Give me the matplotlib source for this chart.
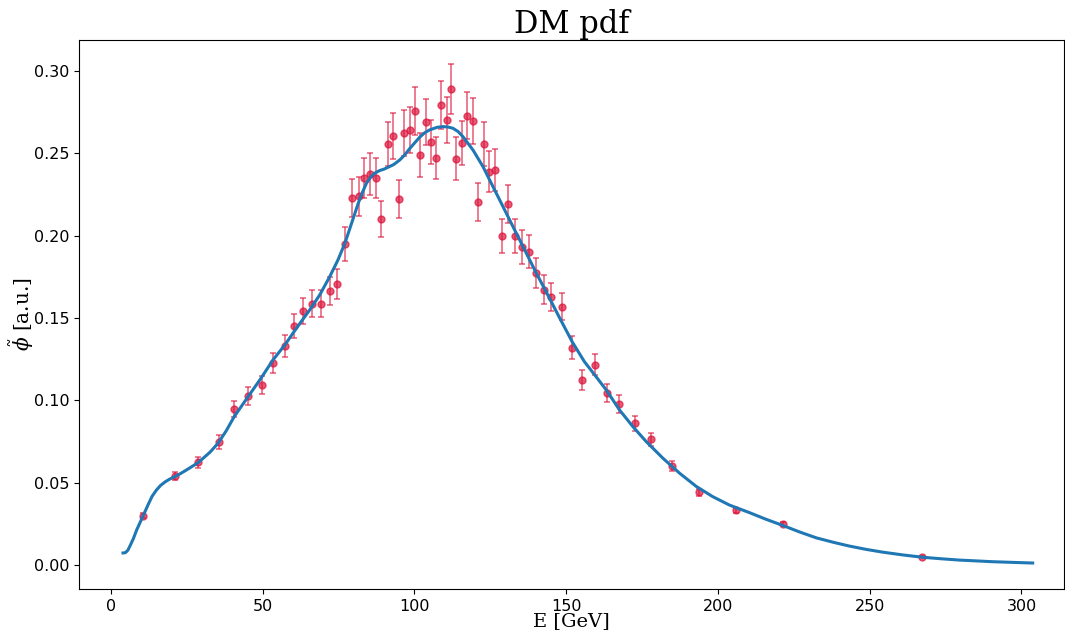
import matplotlib
matplotlib.use("Agg")
import matplotlib.pyplot as plt

# binned data points (E [GeV], phi, error)
E_pts = [10.5, 21.1, 28.6, 35.6, 40.5, 45.1, 49.7, 53.3, 57.3, 60.3,
         63.2, 66.2, 69.1, 72.1, 74.4, 77.1, 79.4, 81.7, 83.3, 85.3,
         87.3, 88.9, 91.2, 92.9, 94.8, 96.5, 98.5, 100.1, 101.7, 103.7,
         105.4, 107.0, 108.7, 110.6, 112.0, 113.6, 115.6, 117.2, 119.2, 120.8,
         122.8, 124.5, 126.4, 128.7, 130.7, 133.0, 135.3, 137.6, 139.9, 142.6,
         144.9, 148.5, 151.8, 155.1, 159.4, 163.3, 167.5, 172.7, 178.1, 185.0,
         193.7, 205.8, 221.6, 267.4]
phi_pts = [0.0298, 0.0540, 0.0625, 0.0747, 0.0947, 0.1026, 0.1093, 0.1227, 0.1330, 0.1451,
           0.1542, 0.1585, 0.1585, 0.1664, 0.1706, 0.1949, 0.2229, 0.2240, 0.2350, 0.2374,
           0.2350, 0.2101, 0.2557, 0.2605, 0.2222, 0.2623, 0.2642, 0.2757, 0.2490, 0.2690,
           0.2569, 0.2472, 0.2793, 0.2702, 0.2891, 0.2466, 0.2563, 0.2727, 0.2696, 0.2204,
           0.2557, 0.2387, 0.2399, 0.1998, 0.2192, 0.1998, 0.1931, 0.1901, 0.1773, 0.1670,
           0.1627, 0.1567, 0.1318, 0.1123, 0.1215, 0.1043, 0.0978, 0.0860, 0.0764, 0.0602,
           0.0441, 0.0332, 0.0249, 0.0049]
phi_err = [0.0015, 0.0026, 0.0033, 0.0040, 0.0047, 0.0052, 0.0056, 0.0063, 0.0068, 0.0075,
           0.0080, 0.0082, 0.0082, 0.0086, 0.0089, 0.0101, 0.0118, 0.0118, 0.0124, 0.0125,
           0.0124, 0.0108, 0.0134, 0.0137, 0.0117, 0.0138, 0.0139, 0.0145, 0.0131, 0.0141,
           0.0135, 0.0130, 0.0147, 0.0142, 0.0153, 0.0130, 0.0135, 0.0143, 0.0142, 0.0118,
           0.0134, 0.0125, 0.0126, 0.0105, 0.0115, 0.0105, 0.0101, 0.0100, 0.0093, 0.0088,
           0.0085, 0.0082, 0.0070, 0.0060, 0.0064, 0.0055, 0.0052, 0.0046, 0.0040, 0.0032,
           0.0023, 0.0017, 0.0012, 0.0003]

# fitted pdf curve
E_fit = [4.0, 4.8, 5.6, 6.3, 7.4, 8.5, 10.4, 12.3, 13.6, 15.0,
         16.3, 17.8, 19.3, 21.1, 23.0, 24.9, 28.7, 32.6, 35.3, 38.0,
         40.6, 45.2, 49.3, 53.4, 57.3, 61.1, 65.5, 68.8, 72.1, 74.8,
         77.1, 79.3, 81.5, 83.0, 84.2, 85.6, 86.9, 88.5, 90.0, 91.3,
         93.2, 95.2, 96.8, 98.5, 101.7, 103.4, 105.0, 107.5, 109.4, 111.0,
         112.7, 114.4, 116.0, 119.3, 122.6, 125.9, 129.2, 132.5, 135.8, 140.2,
         143.1, 148.0, 152.0, 156.0, 160.0, 163.2, 167.6, 172.0, 176.4, 181.9,
         187.4, 192.8, 198.3, 203.8, 210.4, 215.8, 221.4, 227.0, 232.4, 238.0,
         243.3, 248.8, 254.3, 261.0, 267.5, 273.5, 279.5, 285.0, 290.5, 297.0,
         303.7]
phi_fit = [0.0073, 0.0075, 0.0090, 0.0116, 0.0160, 0.0213, 0.0290, 0.0368, 0.0418, 0.0455,
           0.0482, 0.0504, 0.0521, 0.0537, 0.0556, 0.0577, 0.0621, 0.0684, 0.0739, 0.0815,
           0.0900, 0.1022, 0.1130, 0.1245, 0.1336, 0.1437, 0.1549, 0.1640, 0.1751, 0.1852,
           0.1954, 0.2075, 0.2197, 0.2268, 0.2318, 0.2355, 0.2379, 0.2395, 0.2404, 0.2415,
           0.2432, 0.2460, 0.2490, 0.2530, 0.2597, 0.2625, 0.2642, 0.2658, 0.2662, 0.2660,
           0.2652, 0.2632, 0.2601, 0.2520, 0.2419, 0.2297, 0.2176, 0.2054, 0.1933, 0.1771,
           0.1670, 0.1495, 0.1355, 0.1235, 0.1140, 0.1063, 0.0941, 0.0840, 0.0749, 0.0648,
           0.0557, 0.0478, 0.0415, 0.0364, 0.0318, 0.0278, 0.0240, 0.0200, 0.0165, 0.0138,
           0.0115, 0.0095, 0.0078, 0.0061, 0.0047, 0.0038, 0.0030, 0.0025, 0.0020, 0.0016,
           0.0012]

plt.rcParams['mathtext.fontset'] = 'dejavuserif'

fig = plt.figure(figsize=(10.65, 6.3), dpi=100)
ax = fig.add_axes([0.0742, 0.065, 0.9248, 0.8715])

ax.errorbar(E_pts, phi_pts, yerr=phi_err, fmt='o', color='crimson', alpha=0.7,
            markersize=5, elinewidth=1.1, capsize=2.5, capthick=1.1, zorder=2)
ax.plot(E_fit, phi_fit, color='#1f77b4', linewidth=2.2, zorder=3)

ax.set_xlim(-10.5, 314)
ax.set_ylim(-0.0146, 0.3188)
ax.set_xticks([0, 50, 100, 150, 200, 250, 300])
ax.set_yticks([0.0, 0.05, 0.10, 0.15, 0.20, 0.25, 0.30])
ax.set_yticklabels(['0.00', '0.05', '0.10', '0.15', '0.20', '0.25', '0.30'])
ax.tick_params(labelsize=11.5)

ax.set_title('DM pdf', family='DejaVu Serif', fontsize=22, pad=4)
ax.set_xlabel('E [GeV]', family='DejaVu Serif', fontsize=14, labelpad=-1)
ax.set_ylabel(r'$\tilde{\phi}$ [a.u.]', family='DejaVu Serif', fontsize=14.5, labelpad=-2)

fig.savefig('out.png', dpi=100)
